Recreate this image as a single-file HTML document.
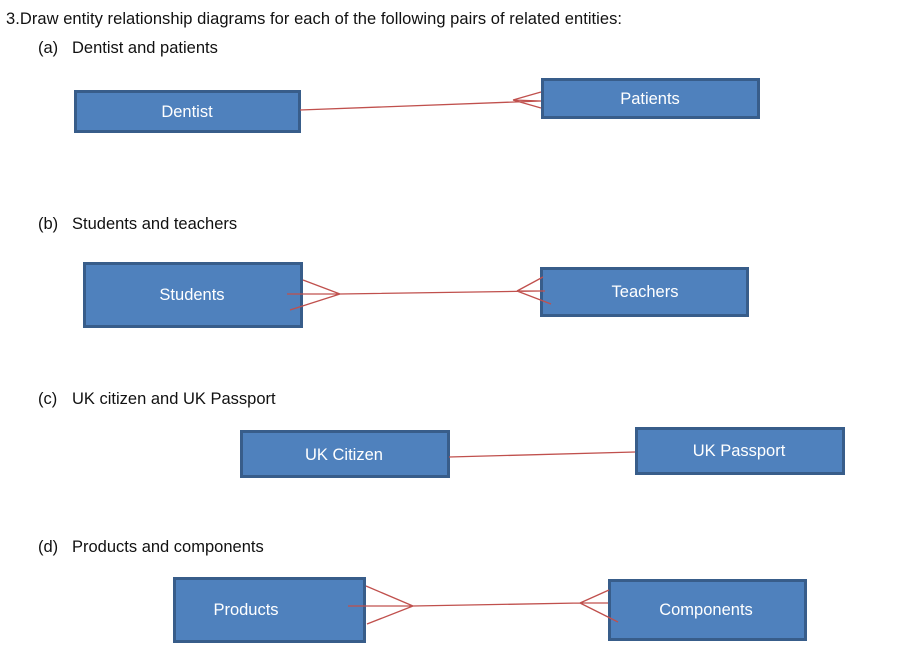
<!DOCTYPE html>
<html><head><style>
body{margin:0;background:#fff;}
svg{display:block;font-family:"Liberation Sans",Arial,sans-serif;}
.b{fill:#4f81bd;stroke:#385d8a;stroke-width:3;}
.t{fill:#fff;font-size:16.5px;text-anchor:middle;}
.h{fill:#111;font-size:16.5px;}
.l{stroke:#c0504d;stroke-width:1.3;fill:none;}
</style></head><body>
<svg width="920" height="660" viewBox="0 0 920 660">
<text class="h" x="6" y="24" textLength="616">3.Draw entity relationship diagrams for each of the following pairs of related entities:</text>
<text class="h" x="38" y="53">(a)</text><text class="h" x="72" y="53">Dentist and patients</text>
<text class="h" x="38" y="229">(b)</text><text class="h" x="72" y="229">Students and teachers</text>
<text class="h" x="38" y="404">(c)</text><text class="h" x="72" y="404">UK citizen and UK Passport</text>
<text class="h" x="38" y="552">(d)</text><text class="h" x="72" y="552">Products and components</text>

<rect class="b" x="75.5" y="91.5" width="224" height="40"/><text class="t" x="187" y="117">Dentist</text>
<rect class="b" x="542.5" y="79.5" width="216" height="38"/><text class="t" x="650" y="104">Patients</text>
<rect class="b" x="84.5" y="263.5" width="217" height="63"/><text class="t" x="192" y="300">Students</text>
<rect class="b" x="541.5" y="268.5" width="206" height="47"/><text class="t" x="645" y="297">Teachers</text>
<rect class="b" x="241.5" y="431.5" width="207" height="45"/><text class="t" x="344" y="460">UK Citizen</text>
<rect class="b" x="636.5" y="428.5" width="207" height="45"/><text class="t" x="739" y="456">UK Passport</text>
<rect class="b" x="174.5" y="578.5" width="190" height="63"/><text class="t" x="246" y="615">Products</text>
<rect class="b" x="609.5" y="580.5" width="196" height="59"/><text class="t" x="706" y="615">Components</text>

<path class="l" d="M300 110L541 101M513 100L541 92M513 100L541 101M513 100L541 108"/>
<path class="l" d="M340 294L540 291M303 280L340 294M287 294L340 294M290 310L340 294M517 291L543 277M517 291L545 291M517 291L551 304"/>
<path class="l" d="M449 457L635 452"/>
<path class="l" d="M413 606L580 603M366 586L413 606M348 606L413 606M367 624L413 606M580 603L609 590M580 603L608 603M580 603L618 622"/>
</svg>
</body></html>
